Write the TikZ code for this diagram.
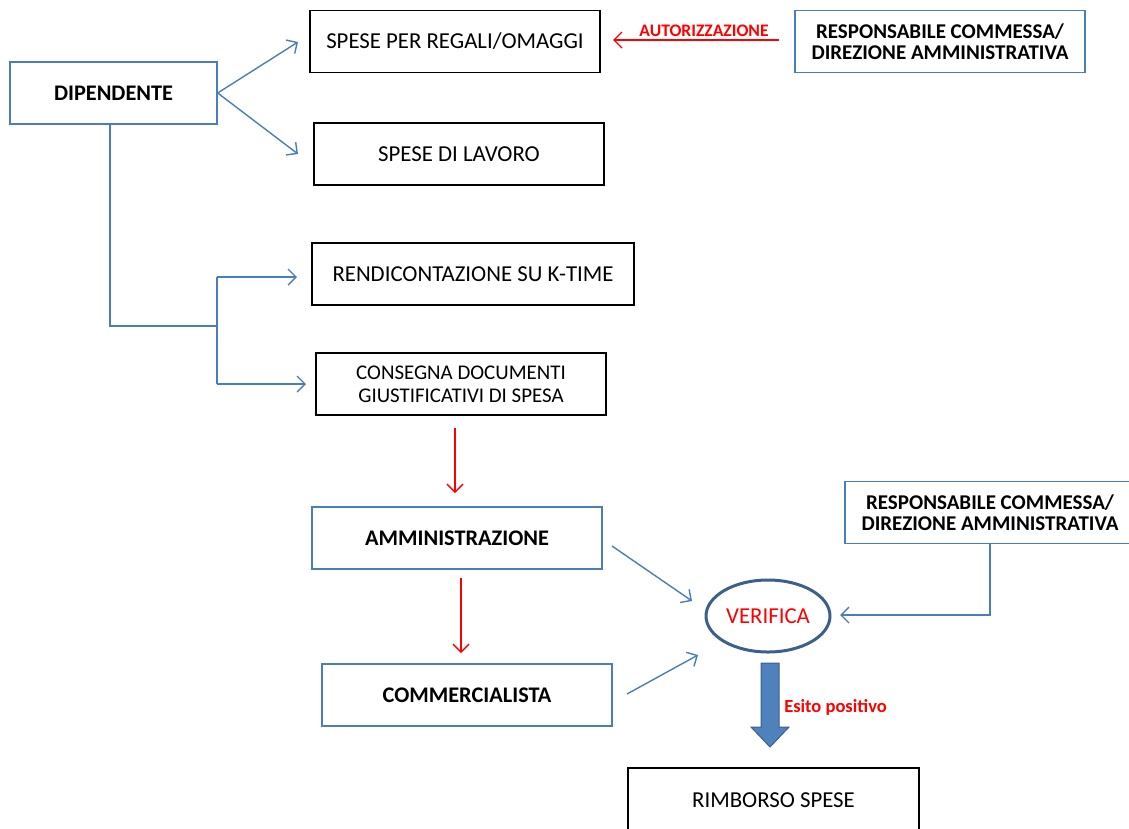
\documentclass[tikz,border=0pt]{standalone}
\usepackage{fontspec}
\setmainfont{Carlito}
\usetikzlibrary{arrows.meta,shapes.geometric}
\definecolor{lblue}{HTML}{4A7EBB}
\definecolor{dblue}{HTML}{3C5F8C}
\definecolor{fblue}{HTML}{4F81BD}
\begin{document}
\begin{tikzpicture}[x=1pt,y=-1pt,
  bbox/.style={draw=black, line width=1.4pt, minimum width=290pt, minimum height=62pt, inner sep=0pt, align=center, font=\fontsize{22.8}{25}\selectfont},
  blbox/.style={bbox, draw=lblue},
  boldtxt/.style={font=\fontsize{22.3}{25}\selectfont\bfseries},
  resptxt/.style={font=\fontsize{21}{21.5}\selectfont\bfseries},
  conn/.style={draw=lblue, line width=1.4pt, -{Straight Barb[length=8pt,width=16pt,line width=1.4pt]}},
  rconn/.style={draw=red, line width=1.4pt, -{Straight Barb[length=8pt,width=16pt,line width=1.4pt]}},
  rlabel/.style={text=red, font=\fontsize{17.6}{19}\selectfont\bfseries, inner sep=0pt}
]
\useasboundingbox (0,0) rectangle (1129,828);
\clip (0,0) rectangle (1129,828);

\node[blbox, boldtxt, minimum width=207pt] (dip) at (113.5,93) {DIPENDENTE};
\node[bbox] (reg) at (455,41.5) {SPESE PER REGALI/OMAGGI};
\node[bbox] (lav) at (459,154) {SPESE DI LAVORO};
\node[bbox, minimum width=322pt] (ren) at (473,274) {RENDICONTAZIONE SU K-TIME};
\node[bbox, font=\fontsize{20.9}{23}\selectfont] (con) at (461,384) {CONSEGNA DOCUMENTI\\GIUSTIFICATIVI DI SPESA};
\node[blbox, boldtxt] (amm) at (457,538) {AMMINISTRAZIONE};
\node[blbox, boldtxt] (com) at (467,695) {COMMERCIALISTA};
\node[blbox, resptxt] (resp1) at (940,41.5) {RESPONSABILE COMMESSA/\\DIREZIONE AMMINISTRATIVA};
\node[blbox, resptxt] (resp2) at (990,512.5) {RESPONSABILE COMMESSA/\\DIREZIONE AMMINISTRATIVA};
\node[draw=dblue, line width=3pt, ellipse, minimum width=124pt, minimum height=72pt, inner sep=0pt, text=red, font=\fontsize{22.8}{25}\selectfont] (ver) at (768,616) {VERIFICA};
\node[bbox, minimum width=291pt, minimum height=64pt] (rim) at (773.5,800) {RIMBORSO SPESE};

% Dipendente branches
\coordinate (regin) at (298,42);
\coordinate (lavin) at (298,154);
\draw[conn] (dip.east) -- (regin);
\draw[conn] (dip.east) -- (lavin);

\coordinate (dipdown) at (110,326);
\coordinate (split) at (217,326);
\coordinate (splittop) at (217,277);
\coordinate (splitbot) at (217,384);
\coordinate (renin) at (297,277);
\coordinate (conin) at (306,384);
\draw[draw=lblue, line width=1.4pt] (dip.south -| dipdown) -- (dipdown) -- (split);
\draw[draw=lblue, line width=1.4pt] (splittop) -- (splitbot);
\draw[conn] (splittop) -- (renin);
\draw[conn] (splitbot) -- (conin);

% red arrows
\coordinate (r1s) at (455,428);
\coordinate (r1e) at (455,493);
\draw[rconn] (r1s) -- (r1e);
\coordinate (r2s) at (461,578);
\coordinate (r2e) at (461,653);
\draw[rconn] (r2s) -- (r2e);

\coordinate (auts) at (779,40);
\coordinate (aute) at (613,40);
\draw[rconn] (auts) -- (aute);
\node[rlabel] (aut) at (704,31) {AUTORIZZAZIONE};

% to verifica
\coordinate (amms) at (612,546);
\coordinate (amme) at (692,601);
\draw[conn] (amms) -- (amme);
\coordinate (coms) at (627,694);
\coordinate (come) at (698,655);
\draw[conn] (coms) -- (come);
\coordinate (rcorner) at (990,615);
\coordinate (rend) at (840,615);
\draw[conn] (resp2.south) -- (rcorner) -- (rend);

% block arrow
\draw[fill=fblue, draw=dblue, line width=1pt] (761,663) -- (779,663) -- (779,727) -- (789,727) -- (770,747) -- (751,727) -- (761,727) -- cycle;
\node[rlabel, font=\fontsize{18.5}{20}\selectfont\bfseries] (esito) at (835.5,707) {Esito positivo};
\end{tikzpicture}
\end{document}
